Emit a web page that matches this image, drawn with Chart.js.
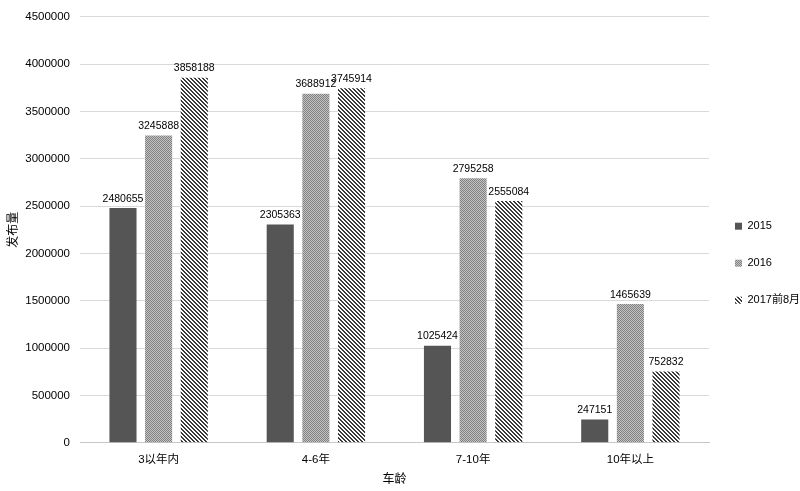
<!DOCTYPE html>
<html>
<head>
<meta charset="utf-8">
<script src="https://cdn.jsdelivr.net/npm/chart.js@4"></script>
<style>
  html, body { margin: 0; padding: 0; background: #fff; }
  #box { width: 800px; height: 491px; }
</style>
</head>
<body>
<div id="box"><canvas id="chart" width="800" height="491"></canvas></div>
<script>
// data
const categories = ['3以年内', '4-6年', '7-10年', '10年以上'];
const seriesNames = ['2015', '2016', '2017前8月'];
const values2015 = [2480655, 2305363, 1025424, 247151];
const values2016 = [3245888, 3688912, 2795258, 1465639];
const values2017 = [3858188, 3745914, 2555084, 752832];
const yTicks = [0, 500000, 1000000, 1500000, 2000000, 2500000, 3000000, 3500000, 4000000, 4500000];

const FONT = "'Liberation Sans', Arial, 'Noto Sans CJK SC', sans-serif";

// fill patterns
function dotPattern() {
    const c = document.createElement('canvas');
    c.width = 2; c.height = 2;
    const g = c.getContext('2d');
    g.fillStyle = '#c4c4c4'; g.fillRect(0, 0, 2, 2);
    g.fillStyle = '#808080'; g.fillRect(0, 0, 1, 1); g.fillRect(1, 1, 1, 1);
    return g.createPattern(c, 'repeat');
}
function stripePattern() {
    const c = document.createElement('canvas');
    c.width = 4; c.height = 4;
    const g = c.getContext('2d');
    g.fillStyle = '#ffffff'; g.fillRect(0, 0, 4, 4);
    g.fillStyle = '#3a3a3a';
    for (let i = 0; i < 4; i++) {
        g.fillRect(i, i, 1, 1);
        g.fillRect((i + 1) % 4, i, 1, 1);
    }
    return g.createPattern(c, 'repeat');
}

const barLabels = {
    id: 'barLabels',
    afterDatasetsDraw(chart) {
        const ctx = chart.ctx;
        ctx.save();
        ctx.font = '10.5px ' + FONT;
        ctx.fillStyle = '#000';
        ctx.textAlign = 'center';
        ctx.textBaseline = 'bottom';
        chart.data.datasets.forEach((ds, i) => {
            chart.getDatasetMeta(i).data.forEach((bar, j) => {
                ctx.fillText(ds.data[j], bar.x, bar.y - 4);
            });
        });
        ctx.restore();
    }
};

const barOpts = { borderWidth: 0, categoryPercentage: 0.68, barPercentage: 0.76 };

const myChart = new Chart(document.getElementById('chart'), {
    type: 'bar',
    data: {
        labels: categories,
        datasets: [
            { label: seriesNames[0], data: values2015, backgroundColor: '#555555', ...barOpts },
            { label: seriesNames[1], data: values2016, backgroundColor: dotPattern(), ...barOpts },
            { label: seriesNames[2], data: values2017, backgroundColor: stripePattern(), ...barOpts }
        ]
    },
    options: {
        responsive: false,
        animation: false,
        layout: { padding: { top: 5, right: 0, bottom: 4, left: 4 } },
        plugins: {
            legend: {
                position: 'right',
                maxWidth: 91,
                title: { display: true, text: ' ', font: { size: 12 }, padding: 10 },
                labels: {
                    font: { size: 11, family: FONT },
                    color: '#000',
                    boxWidth: 7,
                    boxHeight: 7,
                    padding: 26
                }
            },
            tooltip: { enabled: false }
        },
        scales: {
            x: {
                grid: { display: false },
                border: { display: true, color: '#c8c8c8' },
                ticks: { color: '#000', font: { size: 11.5, family: FONT }, padding: 2 },
                title: { display: true, text: '车龄', color: '#000', font: { size: 12, family: FONT }, padding: { top: 4, bottom: 0 } }
            },
            y: {
                min: 0,
                max: 4500000,
                afterBuildTicks: (axis) => { axis.ticks = yTicks.map(v => ({ value: v })); },
                afterFit: (axis) => { axis.width = 76; },
                grid: { color: '#d9d9d9', drawTicks: false },
                border: { display: false },
                ticks: { color: '#000', font: { size: 11.5, family: FONT }, padding: 10, callback: (v) => String(v) },
                title: { display: true, text: '发布量', color: '#000', font: { size: 12, family: FONT }, padding: 2 }
            }
        }
    },
    plugins: [barLabels]
});
</script>
</body>
</html>
